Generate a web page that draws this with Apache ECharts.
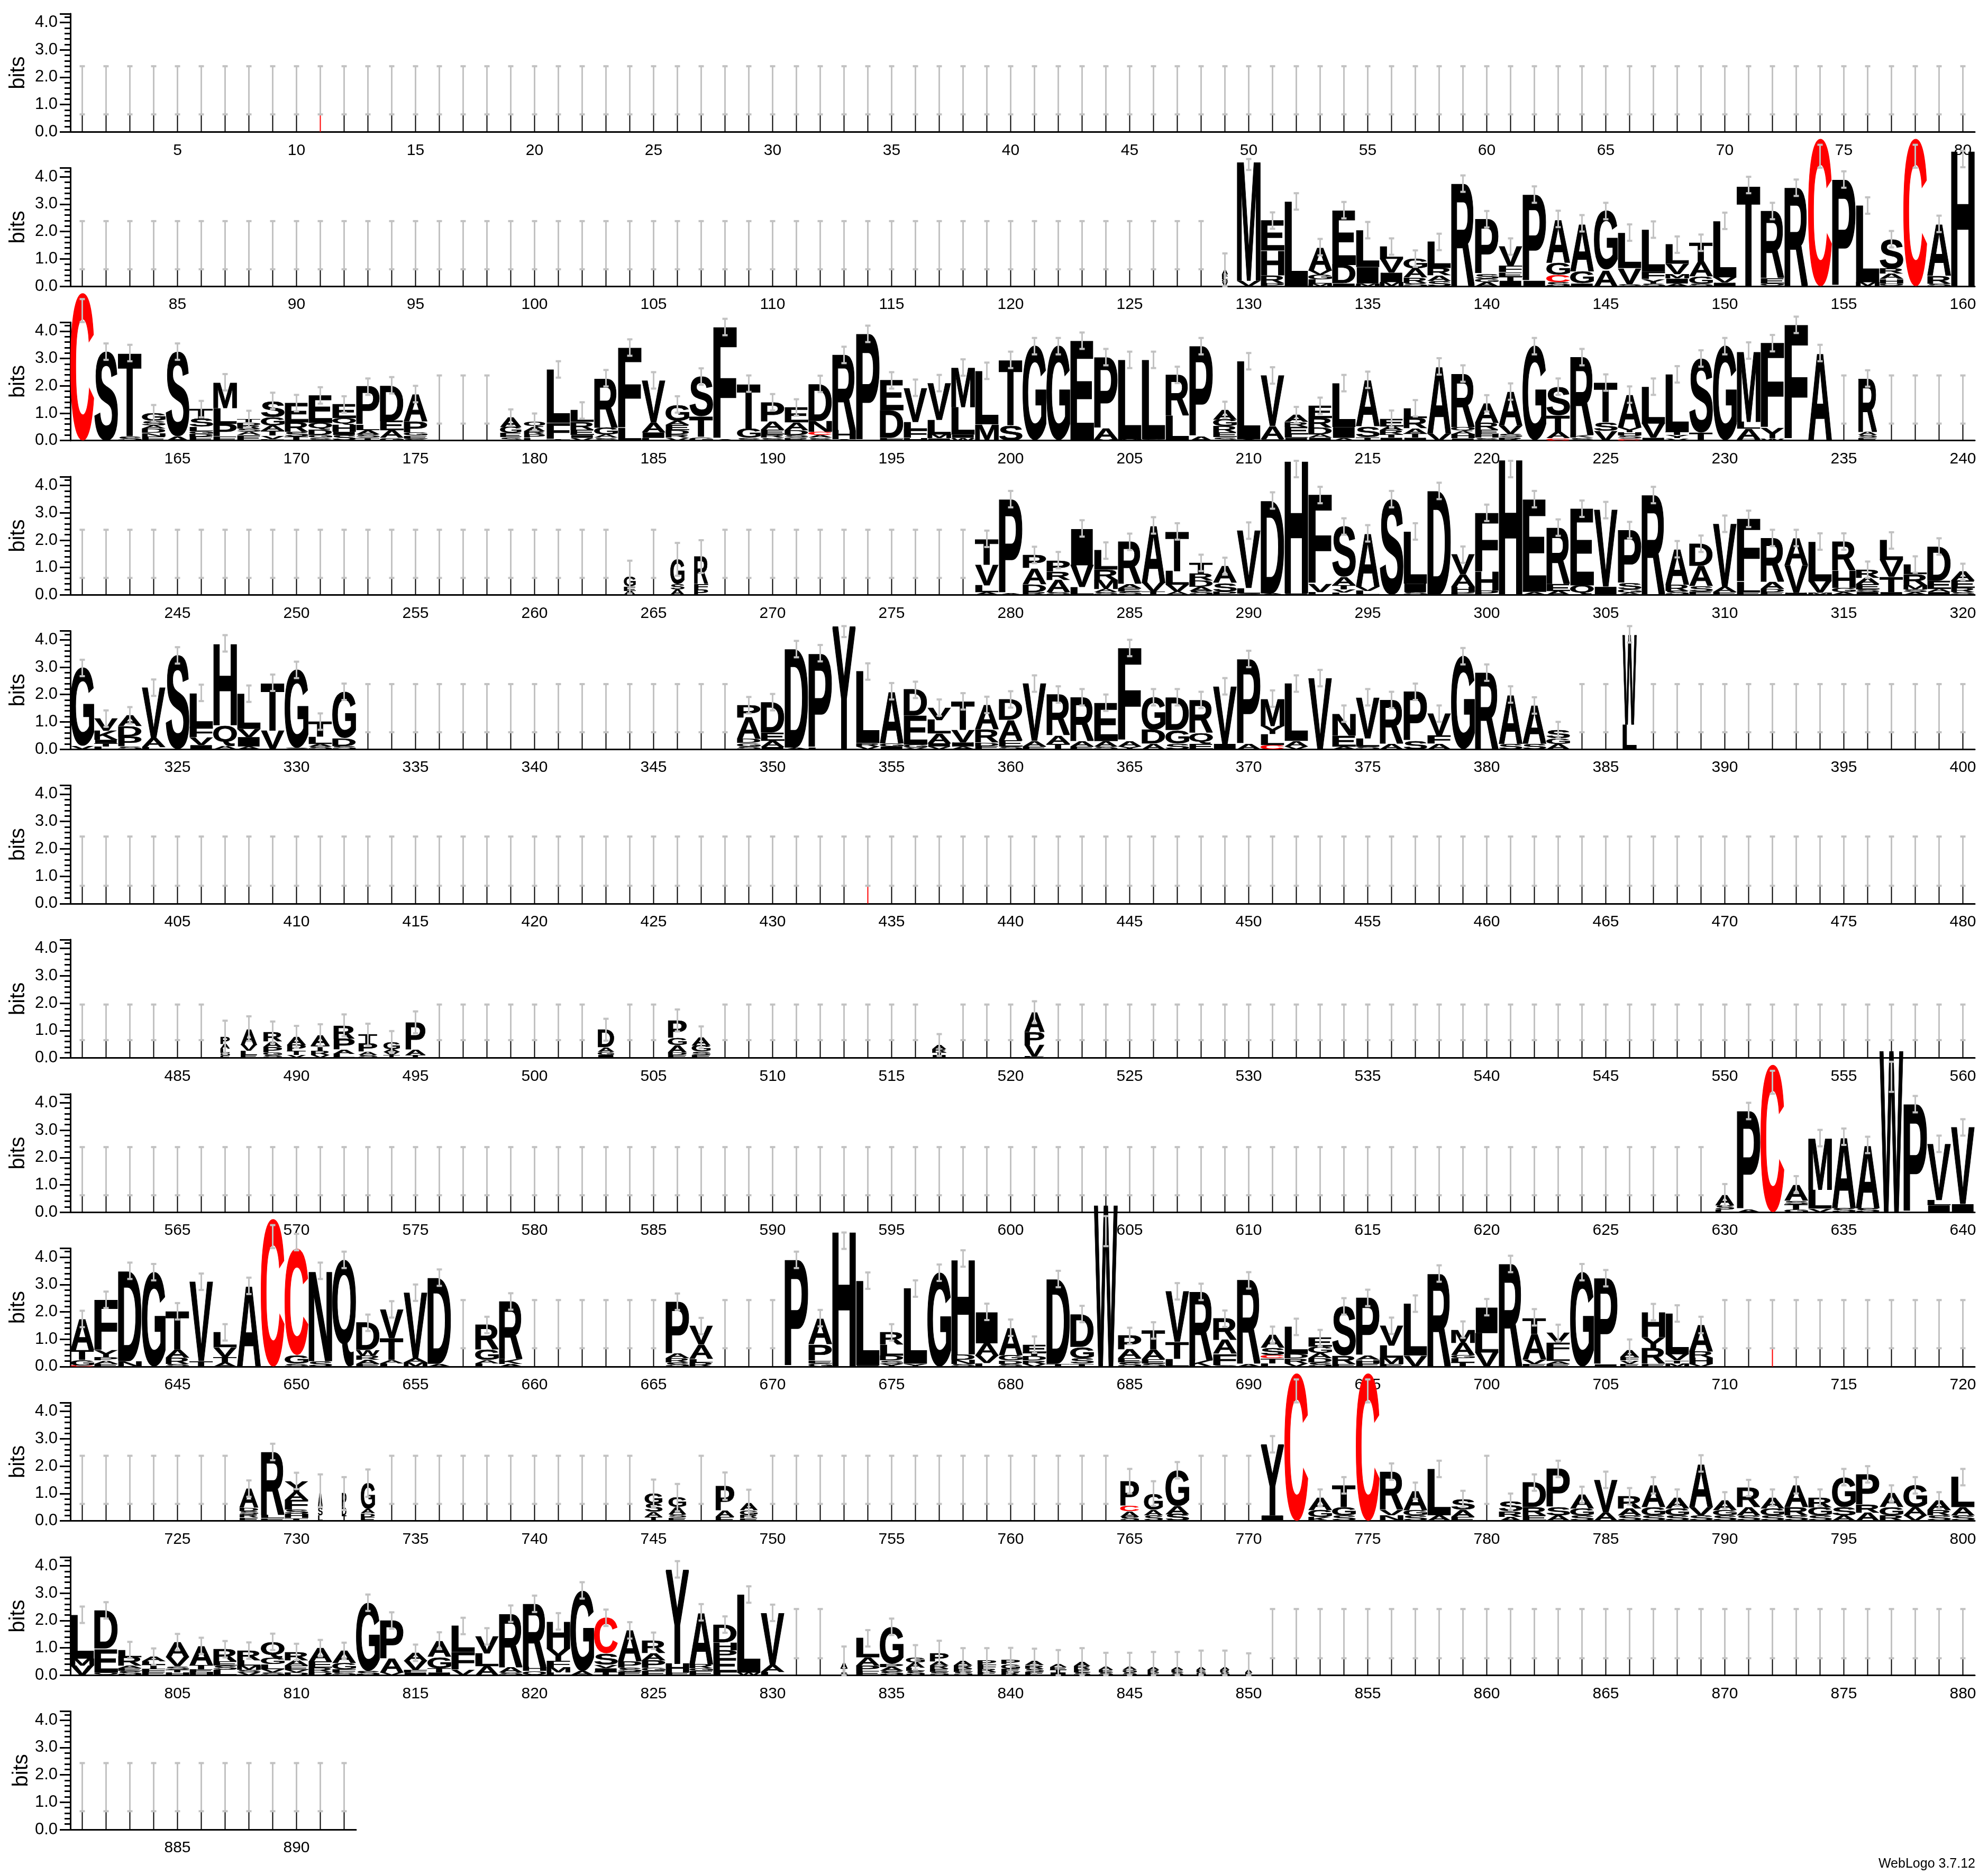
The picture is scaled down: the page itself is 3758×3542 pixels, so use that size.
<!DOCTYPE html>
<html><head><meta charset="utf-8">
<script src="https://cdn.jsdelivr.net/npm/echarts/dist/echarts.min.js"></script>
<style>html,body{margin:0;padding:0;background:#fff}#chart{width:3758px;height:3542px}</style>
</head><body><div id="chart"></div>
<script>
// ---------------- DATA ----------------
const rowStarts = [1,81,161,241,321,401,481,561,641,721,801,881];
const rowLengths = [80,80,80,80,80,80,80,80,80,80,80,12];
const yTickLabels = ['0.0','1.0','2.0','3.0','4.0'];
// empty (mostly-gap) columns: height of thin stack and half-width of its error bar, per row
const emptyMid = [1.52,1.5,1.5,1.5,1.5,1.55,1.3,1.5,1.55,1.5,1.52,1.55];
const emptyErr = [0.88,0.88,0.88,0.88,0.88,0.9,0.65,0.88,0.88,0.88,0.9,0.88];
const redThinPositions = [11,434,712];
// stacks: "position:letter+bits ..." bottom to top; w = width fraction, e = error half-width, b = error-bar centre
const row2Stacks = [
"129:V.15 G.1 L.1 E.1 A.15 w.25 e.6","130:V.2 M4.4 b4.45 e.2","131:P.12 R.28 H.9 E1.1","132:L3.1",
"133:M.1 L.15 G.17 V.16 A.85","134:I.1 D.68 E2.0","135:M.1 I.6 L1.35","136:M.15 I.35 V.5 L.45",
"137:S.12 R.2 A.32 G.37","138:S.2 A.2 R.27 L.95","139:R3.75","140:A.15 G.12 S.18 P2.0",
"141:I.2 T.15 E.16 F.22 V.72","142:I.2 P3.15","143:S.15 C.26 G.45 A1.6","144:I.1 G.45 A1.75",
"145:A.6 G2.15","146:S.08 V.58 L1.3","147:S.1 Y.16 F.26 L1.55","148:A.1 I.18 M.16 V.38 L.7",
"149:S.1 G.26 A.55 T.68","150:I.13 V.2 L2.06","151:T3.7","152:Q.1 E.2 R2.45","153:R3.6",
"154:C5.4 b4.75 e.42","155:P3.9","156:M.15 L2.8","157:Q.1 H.16 A.2 R.2 S1.06","158:C5.4 b4.75 e.42",
"159:S.1 R.28 A1.9","160:H5.0 b4.65 e.3"];
const row3Stacks = [
"161:C5.4 b4.75 e.42","162:S3.25","163:S.15 T3.05","164:E.15 N.13 D.15 A.13 S.16 G.28","165:A.15 S3.1",
"166:E.15 D.1 G.1 L.15 S.3 T.35","167:E.15 P.45 L.58 M.95","168:E.2 A.12 S.12 R.12 D.1 T.13",
"169:E.05 V.13 T.17 A.2 G.3 S.6","170:T.15 S.17 R.35 E.7","171:S.1 G.1 D.2 Q.25 E1.0",
"172:S.2 I.12 H.25 Q.25 E.5","173:T.1 S.12 A.15 L.2 P1.4","174:G.1 A.27 E.35 D1.3",
"175:S.08 E.1 G.12 P.4 A1.0","179:S.12 E.15 G.22 A.35 w.9","180:L.1 P.12 R.12 A.15 Q.2 w.9",
"181:T.05 F.6 L1.95","182:V.1 I.1 E.2 R.28 L.42","183:S.1 A.12 G.26 R1.8","184:L.45 F2.95",
"185:L.1 I.2 A.35 V1.55","186:V.1 R.12 D.15 E.2 A.15 G.6","187:G.14 T.75 S1.45","188:A.05 F4.1",
"189:S.1 G.33 T1.65","190:S.1 R.12 E.18 A.3 P.7","191:R.1 S.1 D.18 A.28 E.55","192:S.1 A.1 C.12 N.4 D1.35",
"193:A.05 H.33 R2.75","194:P3.9","195:F.1 D1.0 E1.1","196:H.1 F.3 L.28 V1.25","197:I.08 M.15 L.52 V1.35",
"198:W.1 I.12 L1.0 M1.45","199:M.6 L1.95","200:S.55 T2.4","201:G3.45","202:G3.45","203:E3.65",
"204:M.05 A.4 P2.6","205:M.05 L2.9","206:S.05 L2.9","207:L.9 R1.5","208:A.15 P3.3",
"209:S.12 E.18 R.22 G.25 A.35","210:A.05 L2.85","211:I.05 A.48 V1.85","212:I.1 L.12 E.28 R.18 A.25",
"213:I.1 A.12 D.26 R.34 E.45","214:A.1 I.4 L1.6","215:T.12 S.4 A1.7","216:I.1 T.12 R.15 A.15 E.28",
"217:I.1 T.15 A.2 R.38 L.35","218:V.26 A2.45","219:I.08 H.15 A.12 Q.15 R1.95","220:S.1 H.12 E.17 R.25 A.72",
"221:R.12 S.12 V.3 A1.25","222:G3.45","223:C.08 A.22 T.62 S1.05","224:S.1 K.1 R2.85","225:V.35 S.32 T1.45",
"226:C.06 S.12 H.12 Y.18 A1.2","227:I.1 V.52 L1.35","228:V.08 Y.12 T.12 L2.1","229:T.3 S2.7","230:G3.45",
"231:Q.05 A.38 L.26 M2.6","232:W.08 Y.38 F3.1","233:I.03 F4.2","234:A3.2","236:E.1 S.1 A.12 R1.95 w.8"];
const row4Stacks = [
"264:A.15 E.15 G.35 w.5 e.6","266:A.2 S.2 G.9 w.6 e.6","267:P.2 F.2 R1.0 w.6 e.6",
"279:A.1 L.25 V.75 T.95","280:A.05 P3.45","281:R.1 D.28 A.6 P.48","282:S.1 A.45 R.3 P.42","283:L.28 V.8 I1.35",
"284:S.1 A.12 M.32 R.38 L.7","285:S.12 E.12 A.15 R1.55","286:T.12 V.32 A2.1","287:A.12 V.25 L.5 T1.45",
"288:S.15 A.15 D.22 R.25 T.4","289:P.12 S.32 A.62","290:S.05 L.2 V2.1","291:A.05 D3.4","292:I.05 H4.9 b4.6",
"293:L.1 V.3 F3.25","294:L.08 V.12 T.15 A.3 S1.85","295:L.15 V.15 A1.95","296:S3.5","297:S.1 I.32 L1.9",
"298:D3.8","299:P.1 H.2 A.45 V.72","300:P.15 H.7 F2.15","301:H5.0 b4.6 e.3","302:A.1 E3.4",
"303:A.15 E.26 R2.05","304:Q.35 E2.8","305:I.3 V2.8","306:A.08 G.12 S.22 P1.95","307:R3.65",
"308:S.15 R.22 A1.3","309:E.12 S.2 A.75 D.8","310:E.1 A.2 V2.3","311:E.1 L.38 F2.3","312:E.1 D.12 A.26 R1.6",
"313:I.08 V1.0 A1.0","314:M.08 V.42 L1.45","315:A.1 G.15 H.65 R1.05","316:I.1 S.1 E.2 A.22 R.3",
"317:I.1 T.55 V.62 L.72","318:A.1 S.1 M.16 R.4 L.35","319:I.1 A.12 E.3 D1.25","320:S.1 R.15 E.27 A.32"];
const row5Stacks = [
"321:V.12 G2.85","322:L.1 T.12 I.13 K.32 V.45","323:S.1 P.36 D.38 A.4","324:L.08 A.32 V1.85","325:S3.43",
"326:I.15 V.28 F.38 L1.25","327:A.12 Q.75 H3.0","328:A.1 I.35 V.3 L1.28","329:V.68 T1.75","330:S.05 G2.85",
"331:S.1 A.1 L.26 T.55","332:S.12 D.28 G1.7",
"349:S.1 G.13 D.15 A.78 P.45","350:I.08 A.22 E.3 D1.12","351:A.06 D3.6","352:L.06 P3.45","353:Y4.5 b4.3 e.2",
"354:V.1 R.12 L2.62","355:I.1 G.12 A1.9","356:V.05 G.12 E1.05 D.95","357:V.1 I.12 A.35 L.5 V.45",
"358:A.1 I.15 V.45 T1.05","359:E.12 D.12 R.48 A.9","360:S.1 E.22 A.75 D.75",
"361:E.1 A.2 V2.1","362:T.2 A.3 R1.5","363:E.1 A.2 R1.6","364:S.1 A.2 E1.4","365:Y.1 A.2 F3.4",
"366:A.2 D.5 G1.2","367:S.2 G.5 D1.2","368:E.2 Q.4 R1.2","369:I.2 V2.1","370:A.2 P3.1",
"371:C.15 L.4 Y.3 M1.0","372:V.1 A.2 L2.1","373:V2.6","374:A.1 E.4 N.8","375:S.1 L.3 V1.5",
"376:A.2 R1.6","377:S.3 P1.8","378:A.2 F.3 V.8","379:G3.4","380:R2.8","381:S.2 A1.8","382:S.2 A1.4",
"383:A.2 G.2 S.3","386:L.9 W3.3 w.6"];
const row7Stacks = [
"487:E.08 G.1 L.15 A.18 P.25 w.4 e.6","488:E.1 L.15 V.22 A.6 w.7 e.45","489:S.1 G.1 P.2 A.2 R.33 w.8 e.4",
"490:V.1 T.15 P.22 A.3 w.8 e.4","491:V.1 R.15 T.2 A.38 w.8 e.4","492:L.15 A.16 P.4 R.48 w.9 e.4",
"493:S.1 A.13 P.3 T.32 w.8 e.4","494:T.1 V.12 A.1 G.26 w.7 e.4","495:T.1 A.2 P1.0 w.85 e.4",
"503:I.1 G.13 A.15 D.65 w.7 e.4","506:E.1 D.1 A.26 G.26 P.65 w.8 e.4","507:E.1 S.13 G.22 A.3 w.8 e.4",
"517:I.1 T.1 R.12 A.15 w.6 e.4","521:E.05 V.42 P.48 A.72 w.85 e.4"];
const row8Stacks = [
"630:L.1 S.15 A.38 w.8 e.4","631:A.1 P3.6","632:C5.4 b4.75 e.42","633:G.1 T.2 S.12 A.6","634:V.13 L.68 M1.9",
"635:S.16 A2.6","636:S.16 A2.3","637:W5.9 b4.95 e.55","638:P3.95","639:I.25 L.2 V2.05","640:I.3 V2.8"];
const row9Stacks = [
"641:C.04 G.2 T.35 A1.15","642:E.1 A.12 P.13 Y.24 F1.85","643:N.2 D3.3","644:G3.45","645:S.1 R.22 A.3 T1.4",
"646:T.2 V2.9","647:A.15 T.2 V.35 L.55","648:A2.95","649:C5.4 b4.75 e.42","650:S.1 G.32 C3.9 b4.55",
"651:S.2 N3.3","652:Q3.9","653:E.1 A.15 R.15 W.2 D1.0","654:L.12 A.12 T.8 V1.05","655:M.15 A.15 V2.4",
"656:A.1 D3.15","658:L.12 A.12 G.38 R.9","659:A.1 K.18 R2.1","666:S.15 R.15 A.17 P1.9","667:R.15 L.13 A.52 V.68",
"671:P3.9","672:G.12 E.1 P.6 A.95","673:H4.98 b4.6","674:I.04 L3.1","675:Y.1 S.12 D.18 L.4 R.45","676:Y.1 L2.75",
"677:G3.43","678:S.1 N.15 D.2 H3.5","679:L.13 V.27 A.45 I1.15","680:S.1 D.12 G.2 A1.0","681:V.1 R.13 D.15 T.12 E.3",
"682:T.1 D3.1","683:T.1 S.2 G.42 D1.2","684:W5.9 b4.95 e.55","685:S.15 E.15 A.32 P.5","686:S.12 E.15 A.35 T.7",
"687:L.28 T.62 V1.85","688:K.23 R2.5","689:S.05 F.42 A.5 R.78","690:A.1 R3.05","691:L.12 T.18 C.12 S.26 A.48",
"692:V.12 R.18 D.15 L1.0","693:S.15 D.15 A.2 G.22 E.32","694:E.1 R.3 S1.8","695:E.12 H.13 A.16 P2.1",
"696:E.1 M.22 L.45 V.72","697:V.4 L1.9","698:R3.4","699:T.15 L.15 G.12 A.45 M.48","700:V.52 L.7 I.95",
"701:R3.75","702:E.1 V.15 A.95 T.6","703:E.1 A.1 L.3 F.38 V.35","704:G3.45","705:I.08 P3.15",
"706:E.1 V.12 F.12 A.25 w.8 e.4","707:E.1 R.58 Y.39 H.92","708:M.12 T.1 V.22 L1.5","709:V.1 H.22 R.22 A.98"];
const row10Stacks = [
"728:E.12 R.12 S.12 D.12 A.7 w.8","729:E.1 L.12 R2.3","730:T.1 H.15 S.16 F.35 A.3 Y.4",
"731:L.2 S.3 A.6 w.2 e.6","732:T.2 D.3 P.5 w.2 e.6","733:E.15 D.13 A.15 G.95 w.6 e.5",
"745:T.15 A.18 S.3 G.38 w.75 e.5","746:E.12 S.13 A.25 G.35 w.75 e.5","748:E.15 A.22 P.9 w.8 e.5",
"749:E.1 R.13 G.16 A.25 w.75 e.5",
"765:S.15 A.2 C.2 P.9 w.8 e.45","766:S.2 A.2 G.6 w.8 e.45","767:S.25 A.3 G1.3","771:I.2 Y2.6","772:C5.4 b4.75 e.42",
"773:K.15 G.25 A.45","774:S.2 G.3 T.8","775:C5.4 b4.75 e.42","776:N.2 V.2 R1.4","777:S.2 G.2 A.7","778:A.2 L1.7",
"779:E.15 A.25 S.4","781:A.15 R.2 S.35","782:E.2 R.3 D.9","783:A.2 S.3 P1.4","784:S.2 G.25 A.5","785:A.3 V1.2",
"786:S.2 A.25 R.45","787:S.2 G.3 A.8","788:S.2 G.25 A.4","789:S.2 V.3 A1.6","790:S.2 G.2 A.35","791:S.2 A.3 R.7",
"792:S.2 G.25 A.4","793:S.2 R.3 A.8","794:S.2 G.3 R.35","795:A.2 S.3 G1.1","796:A.3 R.3 P1.1","797:R.2 G.3 A.5",
"798:V.2 A.3 G.8","799:S.2 R.2 A.35","800:S.2 A.3 L1.1"];
const row11Stacks = [
"801:V.35 M.26 L1.6","802:Q.1 E.87 D1.4","803:S.15 E.1 A.1 R.32 L.25","804:E.12 F.12 T.15 L.12 A.17",
"805:H.1 T.1 S.14 V.32 A.55","806:H.1 E.12 T.15 A.7","807:L.2 S.15 E.15 R.45","808:V.1 S.1 M.15 L.2 R.35",
"809:S.1 V.12 L.18 G.22 Q.6","810:D.1 V.1 E.15 A.2 R.3","811:D.12 R.15 E.22 A.5","812:S.1 F.12 G.22 A.45",
"813:S.15 G2.5","814:V.1 A.5 P1.4","815:I.1 F.1 V.32 A.3","816:I.1 T.15 G.42 A.6","817:V.2 F.65 L.95",
"818:A.32 L.48 V.62","819:S.1 A.2 R1.95","820:Q.15 H.16 R2.3","821:L.1 M.2 F.22 Y.45 H1.0","822:A.15 G2.95",
"823:T.12 I.13 V.13 S.42 C1.3","824:E.12 S.15 P.22 A1.15","825:E.15 G.12 P.28 A.26 R.45","826:E.1 H.32 Y3.45",
"827:E.15 G.1 R.15 A1.9","828:L.1 E.52 P.3 H.28 D.65","829:W.1 L2.85","830:L.12 A.26 V1.9",
"833:S.1 T.15 A.2 w.3 e.6","834:E.15 P.2 A.3 L.7","835:S.15 A.15 P.12 G1.35","836:S.15 L.12 A.2 G.18 w.8 e.45",
"837:S.12 E.12 R.12 A.15 P.3 w.8 e.45","838:S.12 E.12 R.12 A.18 w.8 e.45","839:E.12 R.12 F.15 P.15 w.8 e.45",
"840:R.12 E.12 G.16 P.15 w.8 e.45","841:E.12 S.12 R.13 A.15 w.8 e.45","842:I.1 T.1 E.1 A.12 w.7 e.5",
"843:S.1 E.12 R.12 A.15 w.7 e.5","844:S.1 E.1 A.12 w.6 e.5","845:S.1 G.1 A.12 w.6 e.5","846:E.1 R.1 A.1 w.5 e.55",
"847:S.1 E.1 A.1 w.5 e.55","848:G.1 E.1 A.1 w.4 e.6","849:S.1 R.1 A.1 w.4 e.6","850:E.1 A.1 w.3 e.6"];

// ---------------- BUILD ----------------
const stacks = {};
[row2Stacks,row3Stacks,row4Stacks,row5Stacks,row7Stacks,row8Stacks,row9Stacks,row10Stacks,row11Stacks].forEach(list => {
  list.forEach(s => {
    const i = s.indexOf(':');
    const pos = +s.slice(0, i);
    const st = {letters: [], w: 1, e: null, b: null};
    s.slice(i + 1).trim().split(/\s+/).forEach(t => {
      const k = t[0], v = parseFloat(t.slice(1));
      if (k === 'w') st.w = v; else if (k === 'e') st.e = v; else if (k === 'b') st.b = v;
      else st.letters.push([k, v]);
    });
    stacks[pos] = st;
  });
});
const redThin = new Set(redThinPositions);

const FONT = 'bold 100px "Liberation Sans", Arial, sans-serif';
const SW = 1.5;
const mctx = document.createElement('canvas').getContext('2d');
mctx.font = FONT; mctx.textBaseline = 'middle'; mctx.textAlign = 'left';
const mcache = {};
function metrics(ch) {
  if (!mcache[ch]) {
    const m = mctx.measureText(ch);
    mcache[ch] = {l: m.actualBoundingBoxLeft + SW / 2, r: m.actualBoundingBoxRight + SW / 2,
                  a: m.actualBoundingBoxAscent + SW / 2, d: m.actualBoundingBoxDescent + SW / 2};
  }
  return mcache[ch];
}
function letterEl(L, x0, top, w, h) {
  const m = metrics(L);
  const sx = w / (m.l + m.r), sy = h / (m.a + m.d);
  const col = L === 'C' ? '#ff0000' : '#000000';
  return {type: 'text', x: x0 + m.l * sx, y: top + m.a * sy, scaleX: sx, scaleY: sy, silent: true,
    style: {text: L, x: 0, y: 0, font: FONT, fill: col, stroke: col, lineWidth: SW,
            align: 'left', verticalAlign: 'middle', lineHeight: 100}};
}
const BAR = '#c2c2c2';
function makeRender(r) {
  return function (params, api) {
    const idx = api.value(0);
    const pos = rowStarts[r] + idx;
    const c = api.coord([idx, 0]);
    const cx = c[0], y0 = c[1];
    const bw = api.size([1, 0])[0];
    const ppb = api.size([0, 1])[1];
    const st = stacks[pos];
    const children = [];
    let mid, err;
    if (st) {
      const colW = bw * st.w;
      let cum = 0;
      st.letters.forEach(([L, h]) => {
        const top = y0 - (cum + h) * ppb;
        children.push(letterEl(L, cx - colW / 2, top, colW, h * ppb));
        cum += h;
      });
      mid = st.b != null ? st.b : cum;
      err = st.e != null ? st.e : 0.3;
    } else {
      mid = emptyMid[r]; err = emptyErr[r];
      children.push({type: 'rect', silent: true, shape: {x: cx - 1, y: y0 - mid * ppb, width: 2, height: mid * ppb},
        style: {fill: redThin.has(pos) ? '#ff0000' : '#000000'}});
    }
    const lo = Math.max(0, mid - err), hi = mid + err;
    const yHi = y0 - hi * ppb, yLo = y0 - lo * ppb;
    children.push({type: 'rect', silent: true, shape: {x: cx - 1.5, y: yHi, width: 3, height: yLo - yHi}, style: {fill: BAR}});
    children.push({type: 'rect', silent: true, shape: {x: cx - 5, y: yHi - 2, width: 10, height: 4}, style: {fill: BAR}});
    children.push({type: 'rect', silent: true, shape: {x: cx - 5, y: yLo - 2, width: 10, height: 4}, style: {fill: BAR}});
    return {type: 'group', children};
  };
}

const TXT = '"Liberation Sans", Arial, sans-serif';
const grids = [], xAxes = [], yAxes = [], series = [];
for (let r = 0; r < 12; r++) {
  const base = 249.3 + r * 291.7;
  const h = 223.4;
  grids.push({left: 133, top: base - h, width: rowLengths[r] * 45, height: h});
  const cats = [];
  for (let i = 0; i < rowLengths[r]; i++) cats.push(String(rowStarts[r] + i));
  xAxes.push({type: 'category', gridIndex: r, data: cats, boundaryGap: true, position: 'bottom',
    axisLine: {lineStyle: {color: '#000', width: 3}},
    axisTick: {alignWithLabel: true, interval: 0, length: 7, lineStyle: {color: '#000', width: 2}},
    axisLabel: {interval: 0, margin: 20, color: '#000', fontSize: 30, fontFamily: TXT,
      formatter: v => (+v % 5 === 0 ? v : '')}});
  yAxes.push({type: 'value', gridIndex: r, position: 'left', offset: 0, min: 0, max: 4.32, interval: 0.2,
    axisLine: {show: true, lineStyle: {color: '#000', width: 3}},
    axisTick: {show: true, length: 11, lineStyle: {color: '#000', width: 3}},
    axisLabel: {show: false}, splitLine: {show: false}});
  yAxes.push({type: 'value', gridIndex: r, position: 'left', offset: 0, min: 0, max: 4.32, interval: 1,
    name: 'bits', nameLocation: 'middle', nameGap: 72, nameRotate: 90,
    nameTextStyle: {fontSize: 40, color: '#000', fontFamily: TXT},
    axisLine: {show: true, lineStyle: {color: '#000', width: 3}},
    axisTick: {show: true, length: 20, lineStyle: {color: '#000', width: 3}},
    axisLabel: {margin: 24, color: '#000', fontSize: 31, fontFamily: TXT,
      formatter: v => { const k = Math.round(v); return Math.abs(v - k) < 1e-6 && k < yTickLabels.length ? yTickLabels[k] : ''; }},
    splitLine: {show: false}});
  const data = [];
  for (let i = 0; i < rowLengths[r]; i++) {
    const st = stacks[rowStarts[r] + i];
    data.push([i, st ? st.letters.reduce((a, b) => a + b[1], 0) : emptyMid[r]]);
  }
  series.push({type: 'custom', xAxisIndex: r, yAxisIndex: 2 * r, coordinateSystem: 'cartesian2d',
    renderItem: makeRender(r), data, encode: {x: 0, y: 1}, clip: false, animation: false, silent: true});
}

const chart = echarts.init(document.getElementById('chart'), null, {renderer: 'canvas', width: 3758, height: 3542});
chart.setOption({
  animation: false, backgroundColor: '#ffffff',
  grid: grids, xAxis: xAxes, yAxis: yAxes, series,
  graphic: [{type: 'text', right: 24, bottom: 6, style: {text: 'WebLogo 3.7.12', font: '25px ' + TXT, fill: '#000'}}]
});
</script></body></html>
